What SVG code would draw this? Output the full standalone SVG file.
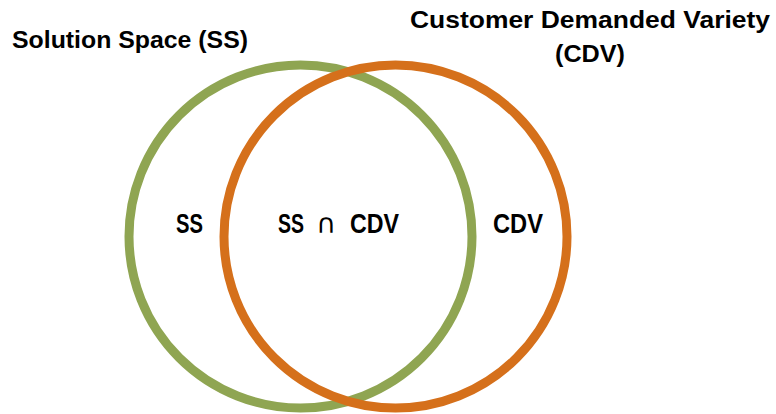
<svg xmlns="http://www.w3.org/2000/svg" width="776" height="414" viewBox="0 0 776 414">
  <style>
    .t { font-family: "Liberation Sans", Arial, sans-serif; font-weight: bold; fill: #000; }
    .title { font-size: 24px; }
    .lbl { font-size: 28px; }
    .cap { font-family: "DejaVu Sans", "Liberation Sans", sans-serif; font-size: 27px; fill: #000; }
    .ring { fill: none; stroke-width: 9; }
  </style>
  <rect width="776" height="414" fill="#fff"/>
  <g id="solution-space">
    <circle class="ring" cx="300.5" cy="236.5" r="171.5" stroke="#8FA552"/>
  </g>
  <g id="customer-demanded-variety">
    <circle class="ring" cx="395.5" cy="236.5" r="171.5" stroke="#D5701B"/>
  </g>
  <g id="titles">
    <text class="t title" x="12" y="48" textLength="236" lengthAdjust="spacingAndGlyphs">Solution Space (SS)</text>
    <text class="t title" x="410" y="28" textLength="360" lengthAdjust="spacingAndGlyphs">Customer Demanded Variety</text>
    <text class="t title" x="555" y="62" textLength="70" lengthAdjust="spacingAndGlyphs">(CDV)</text>
  </g>
  <g id="labels">
    <text class="t lbl" x="176" y="233" textLength="27" lengthAdjust="spacingAndGlyphs">SS</text>
    <text class="t lbl" x="278" y="233" textLength="26" lengthAdjust="spacingAndGlyphs">SS</text>
    <text class="cap" x="316" y="233" textLength="20" lengthAdjust="spacingAndGlyphs">∩</text>
    <text class="t lbl" x="350" y="233" textLength="49" lengthAdjust="spacingAndGlyphs">CDV</text>
    <text class="t lbl" x="493" y="233" textLength="50" lengthAdjust="spacingAndGlyphs">CDV</text>
  </g>
</svg>
